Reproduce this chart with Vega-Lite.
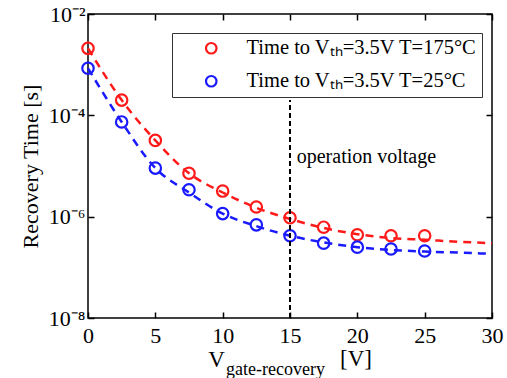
{
  "$schema": "https://vega.github.io/schema/vega-lite/v6.json",
  "width": 404,
  "height": 304,
  "autosize": {"type": "none"},
  "padding": {"left": 88, "top": 14, "right": 15, "bottom": 60},
  "background": "white",
  "config": {
    "view": {"stroke": "black", "strokeWidth": 1.5},
    "axis": {
      "labelFont": "Liberation Serif",
      "labelColor": "black",
      "labelFontSize": 22,
      "labelFlush": false,
      "titleFont": "Liberation Serif",
      "titleColor": "black",
      "titleFontWeight": "normal",
      "grid": false,
      "domain": false,
      "tickColor": "black",
      "tickWidth": 1.5,
      "tickSize": -6
    }
  },
  "datasets": {
    "points": [
      {"v": 0, "t": 2.1e-3, "s": "Time to Vₜₕ=3.5V T=175°C"},
      {"v": 2.5, "t": 2.0e-4, "s": "Time to Vₜₕ=3.5V T=175°C"},
      {"v": 5, "t": 3.2e-5, "s": "Time to Vₜₕ=3.5V T=175°C"},
      {"v": 7.5, "t": 7.2e-6, "s": "Time to Vₜₕ=3.5V T=175°C"},
      {"v": 10, "t": 3.2e-6, "s": "Time to Vₜₕ=3.5V T=175°C"},
      {"v": 12.5, "t": 1.55e-6, "s": "Time to Vₜₕ=3.5V T=175°C"},
      {"v": 15, "t": 9.5e-7, "s": "Time to Vₜₕ=3.5V T=175°C"},
      {"v": 17.5, "t": 6.2e-7, "s": "Time to Vₜₕ=3.5V T=175°C"},
      {"v": 20, "t": 4.4e-7, "s": "Time to Vₜₕ=3.5V T=175°C"},
      {"v": 22.5, "t": 4.2e-7, "s": "Time to Vₜₕ=3.5V T=175°C"},
      {"v": 25, "t": 4.2e-7, "s": "Time to Vₜₕ=3.5V T=175°C"},
      {"v": 0, "t": 8.5e-4, "s": "Time to Vₜₕ=3.5V T=25°C"},
      {"v": 2.5, "t": 7.4e-5, "s": "Time to Vₜₕ=3.5V T=25°C"},
      {"v": 5, "t": 9.1e-6, "s": "Time to Vₜₕ=3.5V T=25°C"},
      {"v": 7.5, "t": 3.4e-6, "s": "Time to Vₜₕ=3.5V T=25°C"},
      {"v": 10, "t": 1.15e-6, "s": "Time to Vₜₕ=3.5V T=25°C"},
      {"v": 12.5, "t": 6.9e-7, "s": "Time to Vₜₕ=3.5V T=25°C"},
      {"v": 15, "t": 4.2e-7, "s": "Time to Vₜₕ=3.5V T=25°C"},
      {"v": 17.5, "t": 3.0e-7, "s": "Time to Vₜₕ=3.5V T=25°C"},
      {"v": 20, "t": 2.5e-7, "s": "Time to Vₜₕ=3.5V T=25°C"},
      {"v": 22.5, "t": 2.3e-7, "s": "Time to Vₜₕ=3.5V T=25°C"},
      {"v": 25, "t": 2.1e-7, "s": "Time to Vₜₕ=3.5V T=25°C"}
    ],
    "fit": [
      {"v": 0, "t": 2.1e-3, "s": "r"},
      {"v": 2.5, "t": 2.0e-4, "s": "r"},
      {"v": 5, "t": 3.2e-5, "s": "r"},
      {"v": 7.5, "t": 7.2e-6, "s": "r"},
      {"v": 10, "t": 3.0e-6, "s": "r"},
      {"v": 12.5, "t": 1.5e-6, "s": "r"},
      {"v": 15, "t": 9.0e-7, "s": "r"},
      {"v": 17.5, "t": 6.0e-7, "s": "r"},
      {"v": 20, "t": 4.5e-7, "s": "r"},
      {"v": 22.5, "t": 3.8e-7, "s": "r"},
      {"v": 25, "t": 3.5e-7, "s": "r"},
      {"v": 27.5, "t": 3.2e-7, "s": "r"},
      {"v": 30, "t": 3.0e-7, "s": "r"},
      {"v": 0, "t": 8.5e-4, "s": "b"},
      {"v": 2.5, "t": 7.4e-5, "s": "b"},
      {"v": 5, "t": 9.1e-6, "s": "b"},
      {"v": 7.5, "t": 3.0e-6, "s": "b"},
      {"v": 10, "t": 1.15e-6, "s": "b"},
      {"v": 12.5, "t": 6.5e-7, "s": "b"},
      {"v": 15, "t": 4.2e-7, "s": "b"},
      {"v": 17.5, "t": 3.1e-7, "s": "b"},
      {"v": 20, "t": 2.5e-7, "s": "b"},
      {"v": 22.5, "t": 2.2e-7, "s": "b"},
      {"v": 25, "t": 2.05e-7, "s": "b"},
      {"v": 27.5, "t": 1.95e-7, "s": "b"},
      {"v": 30, "t": 1.85e-7, "s": "b"}
    ],
    "vline": [{"v": 15, "y0": 1e-8, "y1": 2e-4}],
    "ann": [{"v": 15.5, "t": 1.5e-5, "label": "operation voltage"}],
    "xtitle": [
      {"v": 9.55, "t": 1.5e-9, "label": "V", "size": 23},
      {"v": 13.92, "t": 9.4e-10, "label": "gate-recovery", "size": 18},
      {"v": 19.9, "t": 1.55e-9, "label": "[V]", "size": 23}
    ]
  },
  "resolve": {"axis": {"x": "independent", "y": "independent"}},
  "layer": [
    {
      "data": {"name": "fit"},
      "mark": {"type": "line", "strokeDash": [8, 6], "strokeWidth": 2.5, "interpolate": "monotone"},
      "encoding": {
        "x": {"field": "v", "type": "quantitative", "scale": {"domain": [0, 30], "nice": false},
          "axis": {"values": [0, 5, 10, 15, 20, 25, 30], "title": null, "labelPadding": 13, "orient": "bottom"}},
        "y": {"field": "t", "type": "quantitative", "scale": {"type": "log", "domain": [1e-8, 1e-2], "nice": false},
          "axis": {"values": [1e-8, 1e-6, 1e-4, 1e-2], "orient": "left", "title": "Recovery Time [s]", "titleFontSize": 22, "titlePadding": 6, "labelPadding": 9,
            "labelExpr": "datum.value < 1e-7 ? '10⁻⁸' : datum.value < 1e-5 ? '10⁻⁶' : datum.value < 1e-3 ? '10⁻⁴' : '10⁻²'"}},
        "stroke": {"field": "s", "type": "nominal", "scale": {"domain": ["r", "b"], "range": ["#ff1a1a", "#1a1aff"]}, "legend": null},
        "detail": {"field": "s"}
      }
    },
    {
      "data": {"name": "points"},
      "mark": {"type": "point", "shape": "circle", "filled": false, "strokeWidth": 2.2, "size": 130, "opacity": 1},
      "encoding": {
        "x": {"field": "v", "type": "quantitative", "axis": null},
        "y": {"field": "t", "type": "quantitative", "axis": null},
        "color": {"field": "s", "type": "nominal",
          "scale": {"domain": ["Time to Vₜₕ=3.5V T=175°C", "Time to Vₜₕ=3.5V T=25°C"], "range": ["#ff1a1a", "#1a1aff"]},
          "legend": {"title": null, "orient": "none", "legendX": 84, "legendY": 19, "strokeColor": "#333333", "fillColor": "white",
            "padding": 5, "labelFont": "Liberation Serif", "labelFontSize": 20.5, "labelColor": "black", "symbolSize": 110,
            "symbolStrokeWidth": 2.2, "symbolType": "circle", "symbolOffset": 24, "labelOffset": 25, "rowPadding": 12, "labelLimit": 400}}
      }
    },
    {
      "data": {"name": "vline"},
      "mark": {"type": "rule", "strokeDash": [5, 3], "strokeWidth": 2, "color": "black"},
      "encoding": {
        "x": {"field": "v", "type": "quantitative", "axis": {"orient": "top", "values": [0, 5, 10, 15, 20, 25, 30], "labels": false, "title": null}},
        "y": {"field": "y0", "type": "quantitative", "axis": {"orient": "right", "values": [1e-8, 1e-6, 1e-4, 1e-2], "labels": false, "title": null}},
        "y2": {"field": "y1"}
      }
    },
    {
      "data": {"name": "ann"},
      "mark": {"type": "text", "align": "left", "baseline": "middle", "fontSize": 20, "font": "Liberation Serif", "color": "black"},
      "encoding": {
        "x": {"field": "v", "type": "quantitative", "axis": null},
        "y": {"field": "t", "type": "quantitative", "axis": null},
        "text": {"field": "label"}
      }
    },
    {
      "data": {"name": "xtitle"},
      "mark": {"type": "text", "align": "center", "baseline": "middle", "font": "Liberation Serif", "color": "black"},
      "encoding": {
        "x": {"field": "v", "type": "quantitative", "axis": null},
        "y": {"field": "t", "type": "quantitative", "axis": null},
        "text": {"field": "label"},
        "size": {"field": "size", "type": "quantitative", "scale": null, "legend": null}
      }
    }
  ]
}
